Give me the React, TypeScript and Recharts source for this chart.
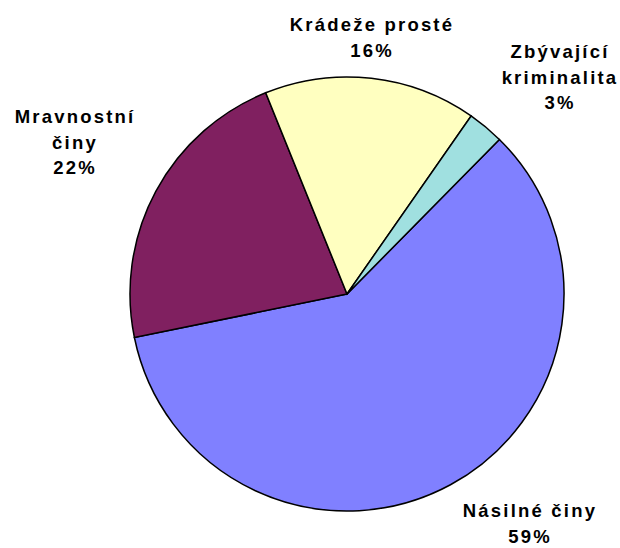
import { PieChart, Pie, Cell } from 'recharts';

const categories = ['Násilné činy', 'Mravnostní činy', 'Krádeže prosté', 'Zbývající kriminalita'];
const shares = [59.4, 22.1, 15.8, 2.7];
const colors = ['#8080FF', '#802060', '#FFFFC0', '#A0E0E0'];

// label placement relative to pie centre (first-line baseline), and whether the name wraps
const labelLayout = [
  { dx: 182, dy: 223, wrap: false },
  { dx: -273, dy: -171, wrap: true },
  { dx: 24, dy: -263, wrap: false },
  { dx: 212, dy: -236, wrap: true },
];

const data = categories.map((name, i) => ({ name, value: shares[i] }));

const LINE_H = 25.5;

function renderLabel(props: any) {
  const { cx, cy, index, name, percent } = props;
  const l = labelLayout[index];
  const lines = l.wrap ? name.split(' ') : [name];
  lines.push(`${Math.round(percent * 100)}%`);
  const x = cx + l.dx + 1;
  return (
    <text
      x={x}
      y={cy + l.dy}
      textAnchor="middle"
      fill="#000"
      style={{ fontFamily: '"Liberation Sans", Arial, sans-serif', fontWeight: 'bold', fontSize: 18.5, letterSpacing: 2.2 }}
    >
      {lines.map((t: string, i: number) => (
        <tspan key={i} x={x} dy={i === 0 ? 0 : LINE_H}>
          {t}
        </tspan>
      ))}
    </text>
  );
}

export default function App() {
  return (
    <div style={{ position: 'absolute', left: 0, top: 0, width: 620, height: 548, background: '#fff' }}>
      <PieChart width={620} height={548} margin={{ top: 0, right: 0, bottom: 0, left: 0 }}>
        <Pie
          data={data}
          dataKey="value"
          nameKey="name"
          cx={347}
          cy={294}
          outerRadius={217}
          startAngle={45.4}
          endAngle={-314.6}
          stroke="#000"
          strokeWidth={1.5}
          label={renderLabel}
          labelLine={false}
          isAnimationActive={false}
        >
          {data.map((d, i) => (
            <Cell key={d.name} fill={colors[i]} />
          ))}
        </Pie>
      </PieChart>
    </div>
  );
}
